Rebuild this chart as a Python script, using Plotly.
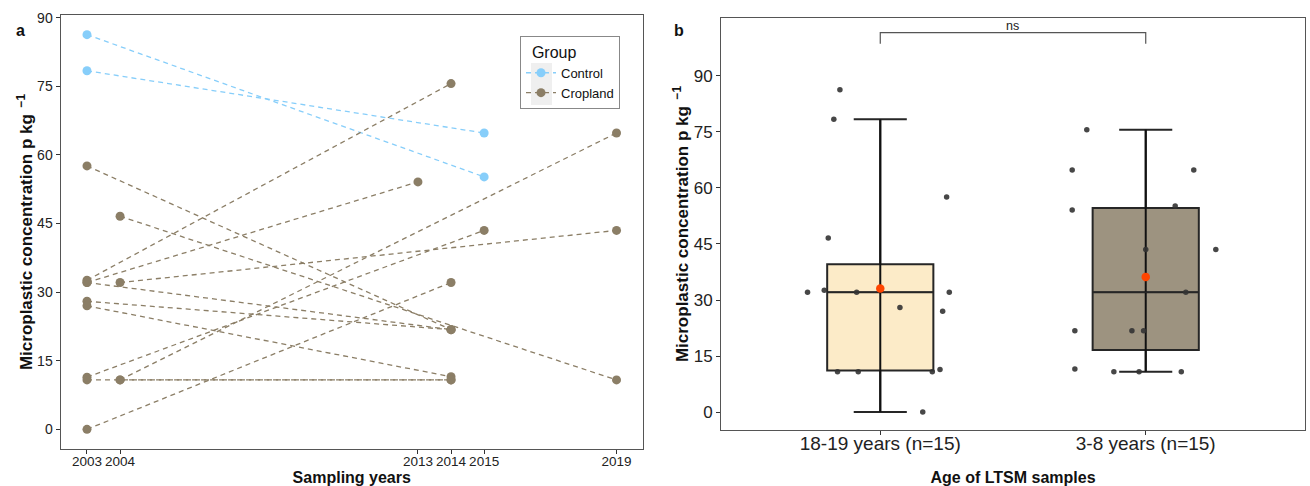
import numpy as np
import plotly.graph_objects as go

# ---------------- data ----------------
group = ["Control", "Control"] + ["Cropland"] * 13
start_year = [2003, 2003, 2003, 2004, 2003, 2003, 2004, 2003, 2003, 2003, 2003, 2004, 2003, 2003, 2004]
start_value = [86.3, 78.4, 57.6, 46.6, 32.6, 32.1, 32.1, 32.1, 28.0, 27.0, 11.4, 10.8, 0.0, 10.8, 10.8]
end_year = [2015, 2015, 2014, 2019, 2014, 2013, 2019, 2014, 2014, 2014, 2015, 2019, 2014, 2014, 2014]
end_value = [55.2, 64.8, 21.8, 10.8, 75.6, 54.1, 43.5, 21.8, 21.8, 11.5, 43.5, 64.8, 32.1, 10.8, 10.8]

# horizontal jitter (category units)
jitter_old = [-0.152, -0.175, 0.25, -0.196, -0.211, -0.274, -0.089, 0.26, 0.074, 0.235, 0.225, -0.161, 0.16, -0.083, 0.196]
jitter_new = [0.111, 0.181, -0.267, -0.12, -0.222, -0.277, 0.264, -0.052, -0.008, -0.267, 0.0, -0.277, 0.151, -0.025, 0.134]

age_labels = ["18-19 years (n=15)", "3-8 years (n=15)"]
y_ticks = [0, 15, 30, 45, 60, 75, 90]
year_ticks = sorted(set(start_year + end_year))

group_colors = {"Control": "#87CEFA", "Cropland": "#8B7E66"}
box_fill = ["#FCEBC8", "#9D9380"]

W, H = 1310, 486
def px_x(p): return p / W
def px_y(p): return 1 - p / H

FONT = "Liberation Sans, Arial, sans-serif"

fig = go.Figure()

# ---------------- panel a ----------------
for g in ["Control", "Cropland"]:
    xs, ys = [], []
    for i in range(len(group)):
        if group[i] == g:
            xs += [start_year[i], end_year[i], None]
            ys += [start_value[i], end_value[i], None]
    fig.add_trace(go.Scatter(
        x=xs, y=ys, mode="lines+markers", name=g, legendgroup=g,
        line=dict(color=group_colors[g], width=1.3, dash="5px,4px"),
        marker=dict(color=group_colors[g], size=9),
        connectgaps=False, xaxis="x", yaxis="y"))

# ---------------- panel b ----------------
sets = [start_value, end_value]
jits = [jitter_old, jitter_new]
for k in range(2):
    vals = np.array(sets[k])
    q1, med, q3 = np.percentile(vals, [25, 50, 75])
    iqr = q3 - q1
    lo = vals[vals >= q1 - 1.5 * iqr].min()
    hi = vals[vals <= q3 + 1.5 * iqr].max()
    xc = k + 1
    fig.add_trace(go.Box(
        x=[xc], q1=[q1], median=[med], q3=[q3], lowerfence=[lo], upperfence=[hi],
        width=0.4, whiskerwidth=0.5, fillcolor=box_fill[k],
        line=dict(color="#262626", width=2), showlegend=False,
        boxpoints=False, xaxis="x2", yaxis="y2", hoverinfo="skip"))
    # errorbar line through the box (stat_boxplot errorbar)
    fig.add_trace(go.Scatter(
        x=[xc, xc], y=[lo, hi], mode="lines", line=dict(color="#111111", width=2),
        showlegend=False, xaxis="x2", yaxis="y2", hoverinfo="skip"))
    fig.add_trace(go.Scatter(
        x=[xc - 0.2, xc + 0.2], y=[med, med], mode="lines", line=dict(color="#262626", width=1.5),
        showlegend=False, xaxis="x2", yaxis="y2", hoverinfo="skip"))
    fig.add_trace(go.Scatter(
        x=[xc + j for j in jits[k]], y=list(vals), mode="markers",
        marker=dict(color="#333333", size=5.5, opacity=0.9),
        showlegend=False, xaxis="x2", yaxis="y2"))
    fig.add_trace(go.Scatter(
        x=[xc], y=[vals.mean()], mode="markers",
        marker=dict(color="#FF4500", size=8.5),
        showlegend=False, xaxis="x2", yaxis="y2"))

axis_common = dict(showline=True, linecolor="#555555", linewidth=1, mirror=True,
                   showgrid=False, zeroline=False, ticks="outside", ticklen=4,
                   tickcolor="#333333", automargin=False)

fig.update_layout(
    width=W, height=H, margin=dict(l=0, r=0, t=0, b=0, autoexpand=False),
    paper_bgcolor="white", plot_bgcolor="white",
    font=dict(family=FONT, color="#111111"),
    xaxis=dict(domain=[px_x(60.5), px_x(643)], range=[2002.2, 2019.8],
               tickvals=year_ticks, ticktext=[str(y) for y in year_ticks],
               title=dict(text="<b>Sampling years</b>", font=dict(size=16), standoff=4),
               tickfont=dict(family=FONT, size=13.5, color="#222222"), ticklabelstandoff=-4,
               anchor="y", **axis_common),
    yaxis=dict(domain=[px_y(449), px_y(15)], range=[-4.3, 90.6], tickvals=y_ticks,
               title=dict(text="<b>Microplastic concentration p kg<sup>  −1</sup></b>", font=dict(size=17), standoff=0),
               tickfont=dict(family=FONT, size=14, color="#222222"),
               anchor="x", **axis_common),
    xaxis2=dict(domain=[px_x(721), px_x(1305)], range=[0.4, 2.6], tickvals=[1, 2], ticktext=age_labels,
                title=dict(text="<b>Age of LTSM samples</b>", font=dict(size=16), standoff=21),
                tickfont=dict(family=FONT, size=19, color="#222222"), ticklabelstandoff=-8,
                anchor="y2", **axis_common),
    yaxis2=dict(domain=[px_y(430), px_y(18)], range=[-4.8, 105.5], tickvals=y_ticks,
                title=dict(text="<b>Microplastic concentration p kg<sup>  −1</sup></b>", font=dict(size=17), standoff=0),
                tickfont=dict(family=FONT, size=17, color="#222222"),
                anchor="x2", **axis_common),
    legend=dict(x=px_x(520), y=px_y(36), xanchor="left", yanchor="top",
                title=dict(text="\u00a0\u00a0Group", font=dict(size=16, family=FONT)),
                font=dict(size=13, family=FONT, color="#111111"),
                bordercolor="#888888", borderwidth=1, bgcolor="rgba(0,0,0,0)",
                itemwidth=30, tracegroupgap=0),
    showlegend=True,
)

# ggplot-style legend key background
fig.add_shape(type="rect", xref="paper", yref="paper",
              x0=px_x(531), x1=px_x(552), y0=px_y(105), y1=px_y(63),
              fillcolor="#EFEFEF", line=dict(width=0), layer="above")

# significance bracket
fig.add_shape(type="path", path="M 1,98.6 L 1,101.6 L 2,101.6 L 2,98.6",
              xref="x2", yref="y2", line=dict(color="#555555", width=1.2))
fig.add_annotation(x=1.5, y=101.6, xref="x2", yref="y2", text="ns", showarrow=False,
                   yanchor="bottom", yshift=-2, font=dict(size=12.5, family=FONT, color="#222222"))

# panel letters
fig.add_annotation(x=px_x(14), y=px_y(20), xref="paper", yref="paper", text="<b>a</b>",
                   showarrow=False, font=dict(size=16, family=FONT, color="#111111"))
fig.add_annotation(x=px_x(679), y=px_y(20), xref="paper", yref="paper", text="<b>b</b>",
                   showarrow=False, font=dict(size=16, family=FONT, color="#111111"))

fig.write_html("out.html")
